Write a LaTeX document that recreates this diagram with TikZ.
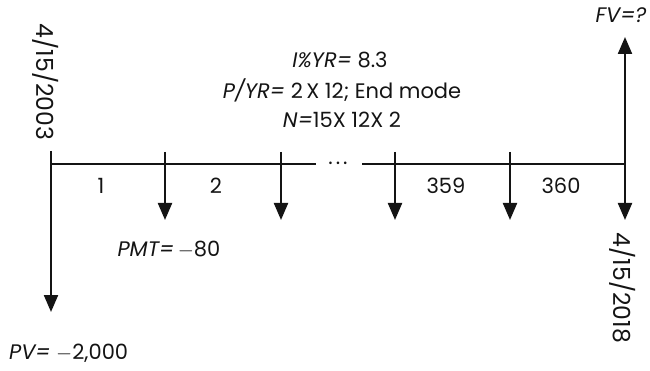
\documentclass[tikz,border=0pt]{standalone}
\usepackage{fontspec}
\setmainfont{Poppins}
\usetikzlibrary{arrows.meta}
\begin{document}
\begin{tikzpicture}[x=1pt,y=-1pt,line width=2.2pt,color={black!92},
  flow/.style={-{Triangle[width=14pt,length=17pt]}},
  lbl/.style={font=\fontsize{21}{24}\selectfont,inner sep=0pt},
  datelbl/.style={font=\fontsize{23.5}{26}\selectfont,inner sep=0pt,rotate=-90}]
\useasboundingbox (0,0) rectangle (650,371);
% timeline points
\coordinate (t0) at (51,164);
\coordinate (t0u) at (51,151);
\coordinate (t1) at (165,164);
\coordinate (t1u) at (165,152);
\coordinate (t2) at (281,164);
\coordinate (t2u) at (281,152);
\coordinate (ta) at (316,164);
\coordinate (tb) at (362,164);
\coordinate (t3) at (395,164);
\coordinate (t3u) at (395,152);
\coordinate (t4) at (510,164);
\coordinate (t4u) at (510,152);
\coordinate (t5) at (625,164);
% arrow ends
\coordinate (pv) at (51,312);
\coordinate (d1) at (165,220);
\coordinate (d2) at (281,220);
\coordinate (d3) at (395,220);
\coordinate (d4) at (510,220);
\coordinate (d5) at (625,220);
\coordinate (fv) at (625,37);
% lines
\draw (t0) -- (ta);
\draw (tb) -- (t5);
\draw[flow] (t0u) -- (pv);
\draw[flow] (t1u) -- (d1);
\draw[flow] (t2u) -- (d2);
\draw[flow] (t3u) -- (d3);
\draw[flow] (t4u) -- (d4);
\draw[flow] (t5) -- (d5);
\draw[flow] (t5) -- (fv);
% labels
\node[lbl,anchor=base] (dots) at (338,165) {.\hspace{3pt}.\hspace{3pt}.};
\node[lbl] (n1) at (101,186) {1};
\node[lbl] (n2) at (216,186) {2};
\node[lbl] (n359) at (446,186) {359};
\node[lbl] (n360) at (561,186) {360};
\node[lbl] (pmt) at (169,250) {\textit{PMT=}\,$-$80};
\node[lbl,anchor=west] (pvl) at (8,353) {\textit{PV=} $-$2,000};
\node[lbl] (fvl) at (621,15) {\textit{FV=?}};
\node[lbl] (iyr) at (340,60) {\textit{I\%YR=} 8.3};
\node[lbl] (pyr) at (342,90) {\textit{P/YR=} 2\,X 12; End mode};
\node[lbl] (nn) at (342,120) {\textit{N=}15X 12X 2};
\node[datelbl] (date0) at (46,82) {4/15/2003};
\node[datelbl] (date1) at (623,288) {4/15/2018};
\end{tikzpicture}
\end{document}
